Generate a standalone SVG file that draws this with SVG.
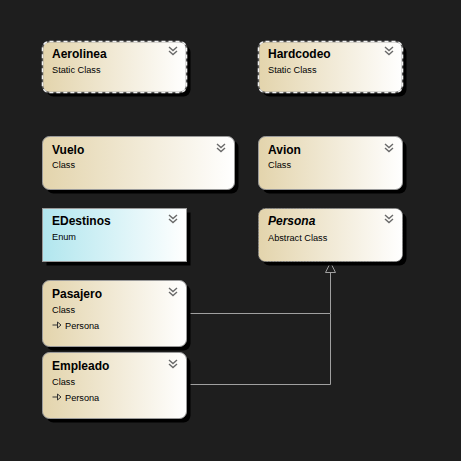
<svg xmlns="http://www.w3.org/2000/svg" width="461" height="461" viewBox="0 0 461 461">
<defs>
<linearGradient id="tan" x1="0" y1="0" x2="1" y2="0">
<stop offset="0" stop-color="#e3d4ac"/>
<stop offset="1" stop-color="#ffffff"/>
</linearGradient>
<linearGradient id="cyan" x1="0" y1="0" x2="1" y2="0">
<stop offset="0" stop-color="#b1e6ee"/>
<stop offset="1" stop-color="#ffffff"/>
</linearGradient>
<style>
.shadow{fill:#000}
.box{fill:url(#tan);stroke:#9a9a9a;stroke-width:1}
.static{fill:url(#tan);stroke:#555;stroke-width:1.5}
.staticdash{fill:none;stroke:#f0f0f0;stroke-width:1.5;stroke-dasharray:4 3}
.abstract{fill:url(#tan);stroke:#888;stroke-width:1;stroke-dasharray:2 1}
.enum{fill:url(#cyan);stroke:#9a9a9a;stroke-width:1}
.title{font-family:"Liberation Sans",Arial,sans-serif;font-size:12px;font-weight:bold;fill:#000}
.sub{font-family:"Liberation Sans",Arial,sans-serif;font-size:9.2px;fill:#000}
.chev{fill:none;stroke:#6a6a6a;stroke-width:1.4}
.conn{fill:none;stroke:#a0a0a0;stroke-width:1}
.icon{fill:none;stroke:#333;stroke-width:1}
</style>
</defs>
<rect width="461" height="461" fill="#1e1e1e"/>

<g id="connectors">
<path class="conn" d="M186.5,313.5 H330.5 V272.5"/>
<path class="conn" d="M186.5,384.5 H330.5 V313.5"/>
<path d="M330.5,262.5 L325.5,272.5 L335.5,272.5 Z" fill="#1e1e1e" stroke="#a0a0a0" stroke-width="1"/>
</g>

<g id="Aerolinea">
<rect class="shadow" x="46.5" y="45.5" width="144" height="51" rx="7"/>
<rect class="static" x="42.5" y="41.5" width="144" height="51" rx="7"/>
<rect class="staticdash" x="42.5" y="41.5" width="144" height="51" rx="7"/>
<text class="title" x="52" y="58">Aerolinea</text>
<text class="sub" x="52" y="72.5">Static Class</text>
<path class="chev" d="M169,47 l4,3.5 l4,-3.5 M169,51 l4,3.5 l4,-3.5"/>
</g>

<g id="Hardcodeo">
<rect class="shadow" x="262.5" y="45.5" width="144" height="51" rx="7"/>
<rect class="static" x="258.5" y="41.5" width="144" height="51" rx="7"/>
<rect class="staticdash" x="258.5" y="41.5" width="144" height="51" rx="7"/>
<text class="title" x="268" y="58">Hardcodeo</text>
<text class="sub" x="268" y="72.5">Static Class</text>
<path class="chev" d="M385,47 l4,3.5 l4,-3.5 M385,51 l4,3.5 l4,-3.5"/>
</g>

<g id="Vuelo">
<rect class="shadow" x="46.5" y="140.5" width="192" height="53" rx="7"/>
<rect class="box" x="42.5" y="136.5" width="192" height="53" rx="7"/>
<text class="title" x="52" y="153.5">Vuelo</text>
<text class="sub" x="52" y="168">Class</text>
<path class="chev" d="M217,144 l4,3.5 l4,-3.5 M217,148 l4,3.5 l4,-3.5"/>
</g>

<g id="Avion">
<rect class="shadow" x="262.5" y="140.5" width="144" height="53" rx="7"/>
<rect class="box" x="258.5" y="136.5" width="144" height="53" rx="7"/>
<text class="title" x="268" y="153.5">Avion</text>
<text class="sub" x="268" y="168">Class</text>
<path class="chev" d="M385,144 l4,3.5 l4,-3.5 M385,148 l4,3.5 l4,-3.5"/>
</g>

<g id="EDestinos">
<rect class="shadow" x="46.5" y="212.5" width="144" height="53"/>
<rect class="enum" x="42.5" y="208.5" width="144" height="53"/>
<text class="title" x="52" y="225">EDestinos</text>
<text class="sub" x="52" y="240">Enum</text>
<path class="chev" d="M169,215 l4,3.5 l4,-3.5 M169,219 l4,3.5 l4,-3.5"/>
</g>

<g id="Persona">
<rect class="shadow" x="262.5" y="212.5" width="144" height="53" rx="7"/>
<rect class="abstract" x="258.5" y="208.5" width="144" height="53" rx="7"/>
<text class="title" x="268" y="225" font-style="italic">Persona</text>
<text class="sub" x="268" y="240.5">Abstract Class</text>
<path class="chev" d="M385,215 l4,3.5 l4,-3.5 M385,219 l4,3.5 l4,-3.5"/>
</g>

<g id="Pasajero">
<rect class="shadow" x="46.5" y="284.5" width="144" height="66" rx="7"/>
<rect class="box" x="42.5" y="280.5" width="144" height="66" rx="7"/>
<text class="title" x="52" y="298">Pasajero</text>
<text class="sub" x="52" y="312.5">Class</text>
<path class="icon" d="M52.5,325 H58"/>
<path d="M57.5,322 L61,325 L57.5,328 Z" fill="none" stroke="#333" stroke-width="1"/>
<text class="sub" x="65" y="328.5">Persona</text>
<path class="chev" d="M169,288 l4,3.5 l4,-3.5 M169,292 l4,3.5 l4,-3.5"/>
</g>

<g id="Empleado">
<rect class="shadow" x="46.5" y="356.5" width="144" height="66" rx="7"/>
<rect class="box" x="42.5" y="352.5" width="144" height="66" rx="7"/>
<text class="title" x="52" y="370">Empleado</text>
<text class="sub" x="52" y="384.5">Class</text>
<path class="icon" d="M52.5,397 H58"/>
<path d="M57.5,394 L61,397 L57.5,400 Z" fill="none" stroke="#333" stroke-width="1"/>
<text class="sub" x="65" y="400.5">Persona</text>
<path class="chev" d="M169,360 l4,3.5 l4,-3.5 M169,364 l4,3.5 l4,-3.5"/>
</g>
</svg>
